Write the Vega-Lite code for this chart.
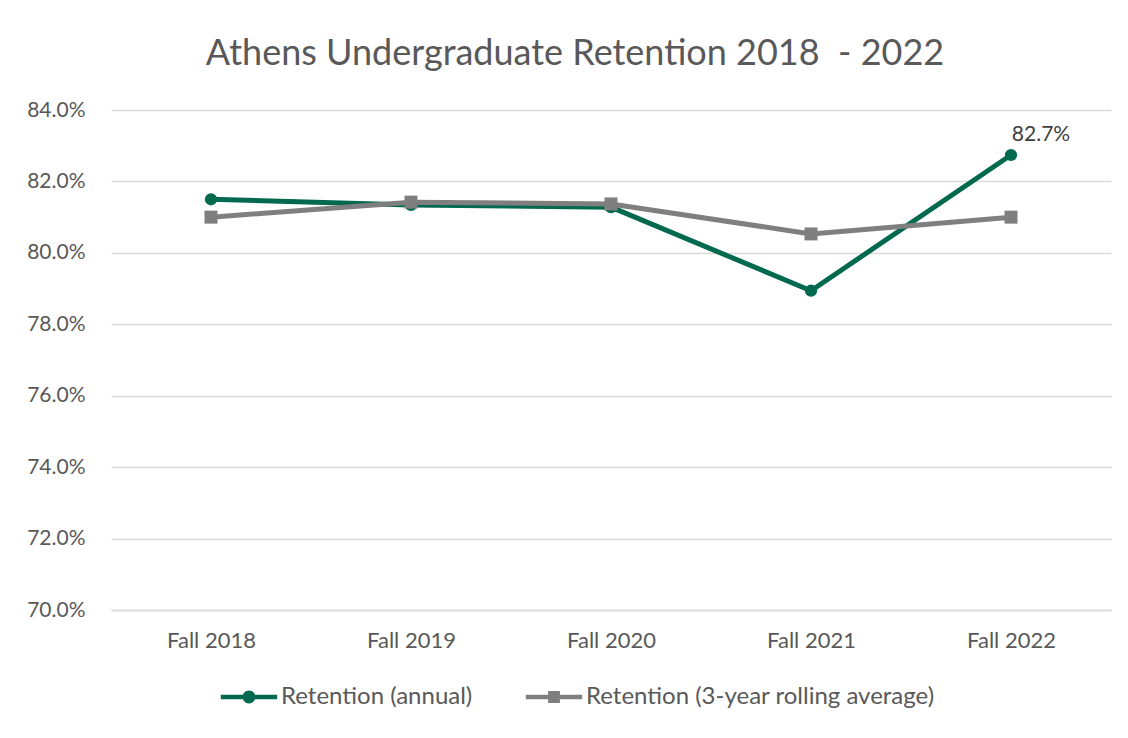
{
  "$schema": "https://vega.github.io/schema/vega-lite/v6.json",
  "width": 1000,
  "height": 500,
  "autosize": {"type": "none"},
  "padding": {"left": 111, "top": 110, "right": 17, "bottom": 128},
  "background": "white",
  "title": {
    "text": "Athens Undergraduate Retention 2018\u00a0 - 2022",
    "font": "Lato",
    "fontSize": 36,
    "fontWeight": "normal",
    "color": "#595959",
    "anchor": "middle",
    "frame": "group",
    "baseline": "alphabetic",
    "offset": 0,
    "dy": 2,
    "dx": -36
  },
  "config": {
    "view": {"stroke": null},
    "font": "Lato"
  },
  "data": {
    "values": [
      {"year": "Fall 2018", "series": "Retention (annual)", "value": 0.815},
      {"year": "Fall 2019", "series": "Retention (annual)", "value": 0.8134},
      {"year": "Fall 2020", "series": "Retention (annual)", "value": 0.8128},
      {"year": "Fall 2021", "series": "Retention (annual)", "value": 0.7894},
      {"year": "Fall 2022", "series": "Retention (annual)", "value": 0.8274},
      {"year": "Fall 2018", "series": "Retention (3-year rolling average)", "value": 0.81},
      {"year": "Fall 2019", "series": "Retention (3-year rolling average)", "value": 0.8142},
      {"year": "Fall 2020", "series": "Retention (3-year rolling average)", "value": 0.8137},
      {"year": "Fall 2021", "series": "Retention (3-year rolling average)", "value": 0.8053},
      {"year": "Fall 2022", "series": "Retention (3-year rolling average)", "value": 0.81}
    ]
  },
  "encoding": {
    "x": {
      "field": "year",
      "type": "ordinal",
      "scale": {"type": "point", "padding": 0.5},
      "axis": {
        "title": null,
        "labelAngle": 0,
        "labelFontSize": 22,
        "labelColor": "#595959",
        "labelFont": "Lato",
        "labelPadding": 20,
        "ticks": false,
        "domain": true,
        "domainColor": "#D9D9D9",
        "domainWidth": 1.3
      }
    },
    "y": {
      "field": "value",
      "type": "quantitative",
      "scale": {"domain": [0.7, 0.84], "nice": false, "zero": false},
      "axis": {
        "title": null,
        "format": ".1%",
        "values": [0.7, 0.72, 0.74, 0.76, 0.78, 0.8, 0.82, 0.84],
        "labelFontSize": 21,
        "labelColor": "#595959",
        "labelFont": "Lato",
        "labelPadding": 26,
        "ticks": false,
        "domain": false,
        "grid": true,
        "gridColor": "#D9D9D9",
        "gridWidth": 1.3
      }
    },
    "color": {
      "field": "series",
      "type": "nominal",
      "sort": ["Retention (annual)", "Retention (3-year rolling average)"],
      "scale": {
        "domain": ["Retention (annual)", "Retention (3-year rolling average)"],
        "range": ["#00694E", "#7F7F7F"]
      },
      "legend": {
        "title": null,
        "orient": "none",
        "direction": "horizontal",
        "legendX": 108,
        "legendY": 557,
        "labelFontSize": 24,
        "labelColor": "#595959",
        "labelFont": "Lato",
        "labelOffset": 2,
        "labelLimit": 0,
        "columnPadding": 51,
        "symbolSize": 3600,
        "symbolStrokeWidth": 0,
        "symbolType": "M-0.94,-0.079H0.94V0.079H-0.94Z M0.216,0A0.216,0.216 0 1,1 -0.216,0A0.216,0.216 0 1,1 0.216,0Z",
        "encode": {
          "symbols": {
            "update": {
              "shape": {"signal": "datum.value === 'Retention (annual)' ? 'M-0.94,-0.079H0.94V0.079H-0.94Z M0.216,0A0.216,0.216 0 1,1 -0.216,0A0.216,0.216 0 1,1 0.216,0Z' : 'M-0.94,-0.079H0.94V0.079H-0.94Z M-0.197,-0.197H0.197V0.197H-0.197Z'"}
            }
          }
        }
      }
    }
  },
  "layer": [
    {
      "mark": {"type": "line", "strokeWidth": 5, "strokeJoin": "round"}
    },
    {
      "transform": [{"filter": "datum.series === 'Retention (annual)'"}],
      "mark": {"type": "point", "shape": "circle", "filled": true, "opacity": 1, "size": 150}
    },
    {
      "transform": [{"filter": "datum.series === 'Retention (3-year rolling average)'"}],
      "mark": {"type": "point", "shape": "square", "filled": true, "opacity": 1, "size": 169}
    },
    {
      "transform": [{"filter": "datum.series === 'Retention (annual)' && datum.year === 'Fall 2022'"}],
      "mark": {"type": "text", "dx": 30, "dy": -20, "fontSize": 21, "font": "Lato"},
      "encoding": {
        "text": {"field": "value", "type": "quantitative", "format": ".1%"},
        "color": {"value": "#404040"}
      }
    }
  ]
}
